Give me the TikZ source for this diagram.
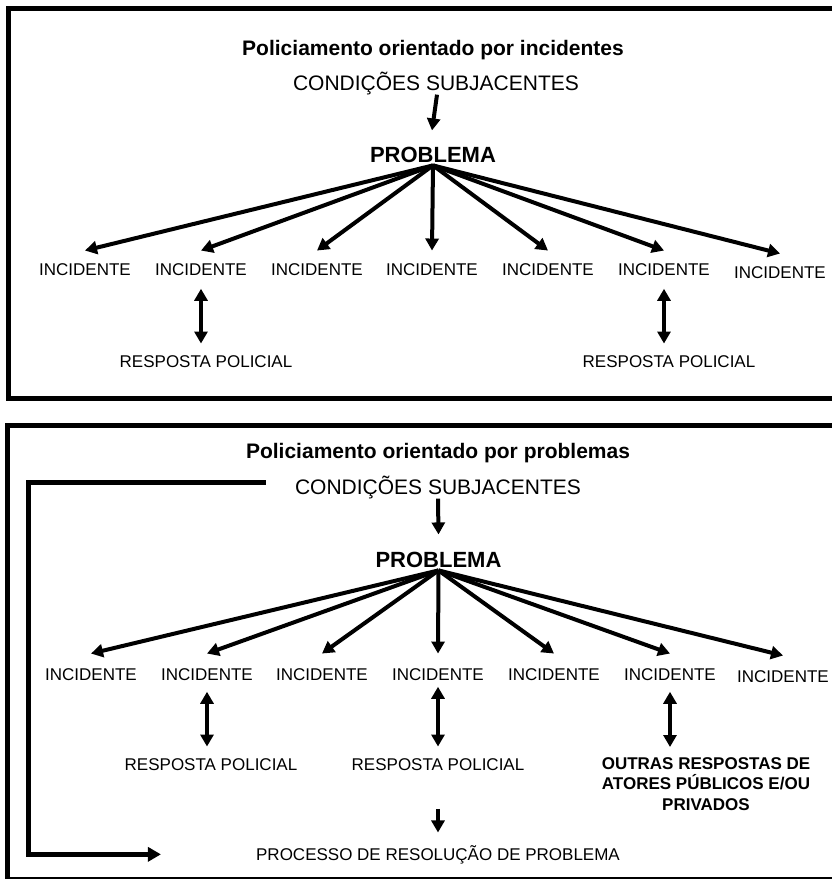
\documentclass[tikz,border=0pt]{standalone}
\usepackage{fontspec}
\setmainfont{Liberation Sans}
\usetikzlibrary{arrows.meta}
\begin{document}
\begin{tikzpicture}[x=1pt,y=-1pt,
  frame/.style={line width=5pt},
  arr/.style={line width=4pt,-{Triangle[length=12pt,width=13pt]}},
  dbl/.style={line width=4pt,{Triangle[length=12pt,width=13pt]}-{Triangle[length=12pt,width=13pt]}},
  fb/.style={line width=5pt,-{Triangle[length=13pt,width=14pt]}},
  lbl/.style={font=\fontsize{17}{20}\selectfont,inner xsep=0pt,inner ysep=11.4pt,anchor=base},
  cond/.style={font=\fontsize{21}{24}\selectfont,inner sep=0pt,anchor=base},
  ttl/.style={font=\bfseries\fontsize{21}{24}\selectfont,inner sep=0pt,anchor=base},
  prob/.style={font=\bfseries\fontsize{22}{26}\selectfont,inner sep=0pt,anchor=base},
  other/.style={font=\bfseries\fontsize{17}{20.5}\selectfont,align=center,inner xsep=0pt,inner ysep=10pt,anchor=north},
]
\useasboundingbox (0,0) rectangle (832,879);
\clip (0,0) rectangle (832,879);
\fill[white] (0,0) rectangle (832,879);

% frames
\draw[frame] (850,8) -- (8.5,8) -- (8.5,398.5) -- (850,398.5);
\draw[frame] (850,425) -- (7,425) -- (7,879) -- (850,879);

% ---------- top panel ----------
\node[ttl] (t1) at (433,55) {Policiamento orientado por incidentes};
\node[cond] (c1) at (436,90) {CONDIÇÕES SUBJACENTES};
\node[prob] (p1) at (433,162) {PROBLEMA};
\coordinate (fo1) at ([yshift=-3pt]p1.south);
\node[lbl] (a1) at (85,275) {INCIDENTE};
\node[lbl] (a2) at (201,275) {INCIDENTE};
\node[lbl] (a3) at (317,275) {INCIDENTE};
\node[lbl] (a4) at (432,275) {INCIDENTE};
\node[lbl] (a5) at (548,275) {INCIDENTE};
\node[lbl] (a6) at (664,275) {INCIDENTE};
\node[lbl] (a7) at (780,278) {INCIDENTE};
\node[lbl] (r1) at (206,367) {RESPOSTA POLICIAL};
\node[lbl] (r2) at (669,367) {RESPOSTA POLICIAL};

\draw[arr] ([xshift=1pt]c1.south) -- ([xshift=-1pt,yshift=16pt]p1.north);
\foreach \n in {a1,a2,a3,a4,a5,a6,a7} \draw[arr] (fo1) -- ([yshift=1pt]\n.north);
\draw[dbl] ([yshift=-2pt]a2.south) -- (a2.south |- r1.north);
\draw[dbl] ([yshift=-2pt]a6.south) -- (a6.south |- r2.north);

% ---------- bottom panel ----------
\node[ttl] (t2) at (438,458) {Policiamento orientado por problemas};
\node[cond] (c2) at (438,494) {CONDIÇÕES SUBJACENTES};
\node[prob] (p2) at (438.5,567) {PROBLEMA};
\coordinate (fo2) at ([yshift=-3pt]p2.south);
\node[lbl] (b1) at (91,680) {INCIDENTE};
\node[lbl] (b2) at (207,680) {INCIDENTE};
\node[lbl] (b3) at (322,680) {INCIDENTE};
\node[lbl] (b4) at (438,680) {INCIDENTE};
\node[lbl] (b5) at (554,680) {INCIDENTE};
\node[lbl] (b6) at (670,680) {INCIDENTE};
\node[lbl] (b7) at (783,682) {INCIDENTE};
\node[lbl] (r3) at (211,770) {RESPOSTA POLICIAL};
\node[lbl] (r4) at (438,770) {RESPOSTA POLICIAL};
\node[other] (o1) at (706,747) {OUTRAS RESPOSTAS DE\\ATORES PÚBLICOS E/OU\\PRIVADOS};
\node[lbl] (pr) at (438,860) {PROCESSO DE RESOLUÇÃO DE PROBLEMA};

\draw[arr] (c2.south) -- ([yshift=17pt]p2.north);
\foreach \n in {b1,b2,b3,b4,b5,b6,b7} \draw[arr] (fo2) -- ([yshift=3pt]\n.north);
\draw[dbl] (b2.south) -- (b2.south |- r3.north);
\draw[dbl] ([yshift=5pt]b4.south) -- (b4.south |- r4.north);
\draw[dbl] (b6.south) -- (b6.south |- o1.north);
\draw[arr] ([yshift=-27pt]r4.south) -- ([yshift=1pt]pr.north);
\draw[fb] ([xshift=-29pt,yshift=5pt]c2.west) -| ([xshift=-227pt]pr.west) -- ([xshift=-95pt]pr.west);
\end{tikzpicture}
\end{document}
